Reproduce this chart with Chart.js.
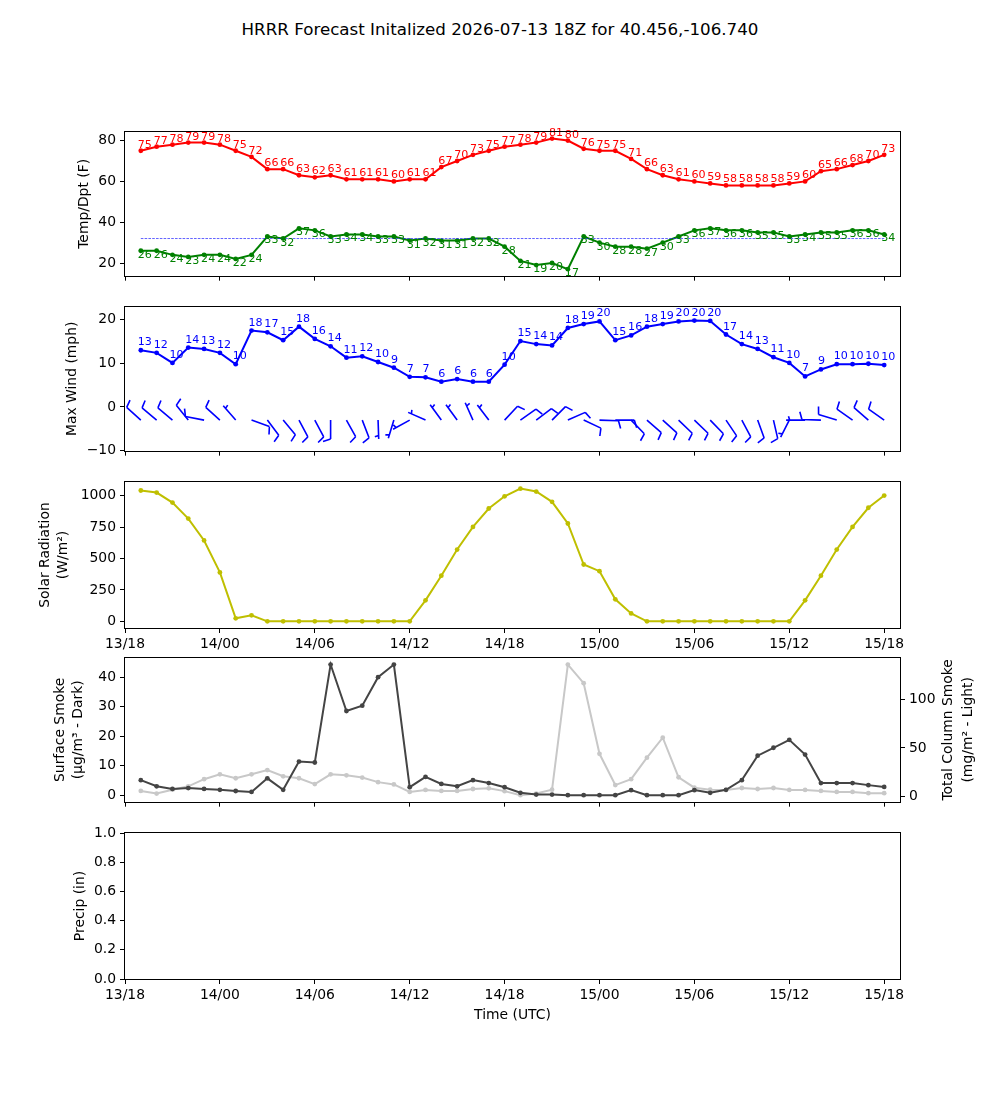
<!DOCTYPE html>
<html>
<head>
<meta charset="utf-8">
<title>HRRR Forecast</title>
<script src="https://cdn.jsdelivr.net/npm/chart.js@4.4.1/dist/chart.umd.min.js"></script>
<style>
    html, body { margin: 0; padding: 0; background: #ffffff; }
    #fig { position: relative; width: 1000px; height: 1100px; overflow: hidden; }
    #title { position: absolute; left: 0; top: 19px; width: 1000px; line-height: 20px;
             text-align: center; font-family: 'DejaVu Sans', sans-serif; font-size: 16.7px; color: #000; }
</style>
</head>
<body>
<div id="fig">
    <div id="title">HRRR Forecast Initalized 2026-07-13 18Z for 40.456,-106.740</div>
</div>
<script>
// --- Data ---
const fcstHour = [1, 2, 3, 4, 5, 6, 7, 8, 9, 10, 11, 12, 13, 14, 15, 16, 17, 18, 19, 20, 21, 22, 23, 24,
                  25, 26, 27, 28, 29, 30, 31, 32, 33, 34, 35, 36, 37, 38, 39, 40, 41, 42, 43, 44, 45, 46, 47, 48];
const tickHours = [0, 6, 12, 18, 24, 30, 36, 42, 48];
const tickLabels = ['13/18', '14/00', '14/06', '14/12', '14/18', '15/00', '15/06', '15/12', '15/18'];

const tempF = [75, 77, 78, 79, 79, 78, 75, 72, 66, 66, 63, 62, 63, 61, 61, 61, 60, 61, 61, 67, 70, 73, 75, 77,
               78, 79, 81, 80, 76, 75, 75, 71, 66, 63, 61, 60, 59, 58, 58, 58, 58, 59, 60, 65, 66, 68, 70, 73];
const dewF = [26, 26, 24, 23, 24, 24, 22, 24, 33, 32, 37, 36, 33, 34, 34, 33, 33, 31, 32, 31, 31, 32, 32, 28,
              21, 19, 20, 17, 33, 30, 28, 28, 27, 30, 33, 36, 37, 36, 36, 35, 35, 33, 34, 35, 35, 36, 36, 34];
const freezingF = 32;

const maxWindMph = [13.0, 12.4, 10.1, 13.6, 13.3, 12.4, 9.8, 17.5, 17.1, 15.3, 18.4, 15.6, 13.9, 11.3, 11.6, 10.3,
                    9.0, 6.9, 6.8, 5.8, 6.4, 5.8, 5.8, 9.7, 15.1, 14.4, 14.1, 18.1, 19.0, 19.6, 15.3, 16.4,
                    18.4, 19.0, 19.6, 19.8, 19.7, 16.6, 14.4, 13.3, 11.4, 10.1, 7.0, 8.6, 9.8, 9.8, 9.9, 9.6];
const windDir = [312, 310, 310, 321, 281, 312, 319, 110, 143, 140, 152, 152, 180, 151, 159, 178,
                 197, 241, 294, 324, 324, 336, 323, 43, 55, 53, 45, 66, 115, 92, 90, 136,
                 131, 132, 134, 134, 136, 146, 152, 160, 167, 207, 270, 272, 287, 305, 311, 305];
const barbKts = [10, 10, 10, 10, 10, 10, 5, 10, 10, 10, 10, 10, 10, 10, 10, 5,
                 5, 5, 5, 5, 5, 5, 5, 10, 10, 10, 10, 10, 10, 10, 10, 10,
                 10, 10, 10, 10, 10, 10, 10, 10, 10, 5, 5, 10, 10, 10, 10, 10];

const solarWm2 = [1040, 1024, 944, 817, 643, 389, 24, 48, 0, 0, 0, 0, 0, 0, 0, 0, 0, 0, 167, 363, 571, 751, 897, 994,
                  1055, 1032, 950, 778, 452, 399, 175, 63, 0, 0, 0, 0, 0, 0, 0, 0, 0, 0, 167, 363, 571, 751, 903, 1000];

const smokeSfc = [5.1, 3.0, 2.1, 2.4, 2.1, 1.8, 1.4, 1.1, 5.7, 1.8, 11.4, 11.1, 44.4, 28.6, 30.4, 40.1,
                  44.4, 2.7, 6.2, 3.8, 3.0, 5.1, 4.1, 2.7, 0.8, 0.2, 0.2, 0.0, 0.0, 0.0, 0.0, 1.7,
                  0.0, 0.0, 0.0, 1.7, 0.8, 1.8, 5.1, 13.4, 16.1, 18.8, 13.8, 4.1, 4.1, 4.1, 3.4, 2.8];
const smokeCol = [6.0, 3.3, 7.3, 10.7, 18, 23, 19, 23, 27.4, 21, 19, 13, 23, 22, 19.7, 15,
                  12.7, 5, 7, 6, 6, 8, 8.7, 5.8, 1.7, 3.3, 7.3, 135.4, 116.3, 44, 12, 18,
                  40, 60.5, 20, 9.3, 7.3, 7, 9, 8, 9, 7, 7, 6, 5, 5, 3.7, 3.7];

const tempTicks = [20, 40, 60, 80];
const windTicks = [-10, 0, 10, 20];
const solarTicks = [0, 250, 500, 750, 1000];
const smokeTicks = [0, 10, 20, 30, 40];
const colTicks = [0, 50, 100];
const precipTicks = [0, 0.2, 0.4, 0.6, 0.8, 1.0];

// --- Layout ---
const FONT = "'DejaVu Sans', sans-serif";
const TICK_FONT = { family: FONT, size: 13.9 };
const PAD_T = 14;
const PLOT_H = 146;

const series = (vals) => fcstHour.map((h, i) => ({ x: h, y: vals[i] }));

// --- Plugins ---
const frame = {
    id: 'frame',
    afterDraw(chart) {
        const { ctx, chartArea: a } = chart;
        ctx.save();
        ctx.strokeStyle = '#000';
        ctx.lineWidth = 1;
        ctx.strokeRect(Math.round(a.left) - 0.5, Math.round(a.top) - 0.5,
                       Math.round(a.right - a.left) + 1, Math.round(a.bottom - a.top) + 1);
        ctx.restore();
    }
};

const pointLabels = {
    id: 'pointLabels',
    afterDatasetsDraw(chart) {
        const ctx = chart.ctx;
        chart.data.datasets.forEach((ds, di) => {
            if (ds.labelOffset === undefined) return;
            const meta = chart.getDatasetMeta(di);
            ctx.save();
            ctx.font = `11.1px ${FONT}`;
            ctx.fillStyle = ds.borderColor;
            ctx.textAlign = 'left';
            ctx.textBaseline = 'alphabetic';
            meta.data.forEach((pt, i) => {
                ctx.fillText(String(Math.round(ds.data[i].y)), pt.x - 3, pt.y + ds.labelOffset);
            });
            ctx.restore();
        });
    }
};

function axisLabels(items) {
    return {
        id: 'axisLabels',
        afterDraw(chart) {
            const { ctx, chartArea } = chart;
            const cy = (chartArea.top + chartArea.bottom) / 2;
            ctx.save();
            ctx.font = `13.9px ${FONT}`;
            ctx.fillStyle = '#000';
            ctx.textAlign = 'center';
            ctx.textBaseline = 'middle';
            items.forEach(it => {
                ctx.save();
                ctx.translate(it.x, cy);
                ctx.rotate(-Math.PI / 2);
                ctx.fillText(it.text, 0, 0);
                ctx.restore();
            });
            ctx.restore();
        }
    };
}

function windBarbs(dirs, kts, level) {
    return {
        id: 'windBarbs',
        afterDatasetsDraw(chart) {
            const { ctx, scales } = chart;
            const L = 19, H = 0.4 * L, W = 0.25 * L, S = 0.125 * L;
            ctx.save();
            ctx.strokeStyle = '#0000ff';
            ctx.lineWidth = 1.6;
            fcstHour.forEach((h, i) => {
                const bx = scales.x.getPixelForValue(h);
                const by = scales.y.getPixelForValue(level);
                const a = dirs[i] * Math.PI / 180;
                const ux = Math.sin(a), uy = -Math.cos(a);   // shaft points into the wind
                const px = -uy, py = ux;                     // barbs on the clockwise side
                const at = d => [bx + ux * d, by + uy * d];
                ctx.beginPath();
                ctx.moveTo(bx, by);
                const tip = at(L);
                ctx.lineTo(tip[0], tip[1]);
                let off = L;
                const full = Math.floor(kts[i] / 10);
                const half = kts[i] % 10 >= 5;
                for (let k = 0; k < full; k++) {
                    const p = at(off);
                    ctx.moveTo(p[0], p[1]);
                    ctx.lineTo(p[0] + px * H + ux * W / 2, p[1] + py * H + uy * W / 2);
                    off -= S;
                }
                if (half) {
                    if (off === L) off -= 1.5 * S;
                    const p = at(off);
                    ctx.moveTo(p[0], p[1]);
                    ctx.lineTo(p[0] + px * H / 2 + ux * W / 4, p[1] + py * H / 2 + uy * W / 4);
                }
                ctx.stroke();
            });
            ctx.restore();
        }
    };
}

// --- Scales ---
function xAxis(mode, height) {
    return {
        type: 'linear', min: 0, max: 49,
        afterBuildTicks: s => { s.ticks = tickHours.map(v => ({ value: v })); },
        afterFit: s => { s.height = height; },
        grid: { drawOnChartArea: false, drawTicks: true, tickLength: 5, color: '#000', lineWidth: 1 },
        border: { display: false },
        ticks: {
            display: mode !== 'none', color: '#000', font: TICK_FONT, padding: 3,
            maxRotation: 0, autoSkip: false,
            callback: (v, i) => tickLabels[i]
        },
        title: {
            display: mode === 'title', text: 'Time (UTC)', color: '#000', font: TICK_FONT,
            padding: { top: 0, bottom: 15.7 }
        }
    };
}

function yAxis(pos, min, max, ticksArr, fmt) {
    return {
        type: 'linear', position: pos, min: min, max: max,
        afterBuildTicks: s => { s.ticks = ticksArr.map(v => ({ value: v })); },
        afterFit: s => { s.width = pos === 'left' ? 125 : 100; },
        grid: { drawOnChartArea: false, tickLength: 5, color: '#000', lineWidth: 1 },
        border: { display: false },
        ticks: {
            color: '#000', font: TICK_FONT, padding: 4,
            callback: fmt || (v => String(v).replace('-', '\u2212'))
        }
    };
}

function lineSet(vals, color, extra) {
    return Object.assign({
        data: series(vals),
        borderColor: color,
        backgroundColor: color,
        borderWidth: 2,
        pointRadius: 2.4,
        pointBorderWidth: 0,
        pointBackgroundColor: color,
        tension: 0
    }, extra || {});
}

// --- Panels ---
function addCanvas(top, height) {
    const c = document.createElement('canvas');
    c.width = 1000;
    c.height = height;
    c.style.cssText = `position:absolute;left:0;top:${top}px;width:1000px;height:${height}px`;
    document.getElementById('fig').appendChild(c);
    return c;
}

function panelChart(cfg) {
    const xH = cfg.xMode === 'title' ? 60 : (cfg.xMode === 'labels' ? 30 : 10);
    const canvas = addCanvas(cfg.top - PAD_T, PAD_T + PLOT_H + xH);
    const scales = Object.assign({ x: xAxis(cfg.xMode, xH) }, cfg.scales);
    const plugins = [frame, pointLabels, axisLabels(cfg.labels)];
    if (cfg.extraPlugin) plugins.push(cfg.extraPlugin);
    return new Chart(canvas, {
        type: 'line',
        data: { datasets: cfg.datasets },
        options: {
            responsive: false,
            animation: false,
            devicePixelRatio: 1,
            layout: { padding: { top: PAD_T, left: 0, right: cfg.scales.y2 ? 0 : 100, bottom: 0 } },
            scales: scales,
            plugins: { legend: { display: false }, tooltip: { enabled: false } }
        },
        plugins: plugins
    });
}

// Temperature / dewpoint
panelChart({
    top: 132, xMode: 'none',
    labels: [{ text: 'Temp/Dpt (F)', x: 84 }],
    scales: { y: yAxis('left', 13.8, 84.2, tempTicks) },
    datasets: [
        {
            data: [{ x: fcstHour[0], y: freezingF }, { x: fcstHour[fcstHour.length - 1], y: freezingF }],
            borderColor: '#2020ff', borderWidth: 0.7, borderDash: [2.6, 1.2], pointRadius: 0
        },
        lineSet(tempF, '#ff0000', { labelOffset: -3 }),
        lineSet(dewF, '#008000', { labelOffset: 7 })
    ]
});

// Max wind + barbs
panelChart({
    top: 307, xMode: 'none',
    labels: [{ text: 'Max Wind (mph)', x: 72 }],
    scales: { y: yAxis('left', -10, 22.9, windTicks) },
    datasets: [lineSet(maxWindMph, '#0000ff', { labelOffset: -5 })],
    extraPlugin: windBarbs(windDir, barbKts, -3)
});

// Solar radiation
panelChart({
    top: 482, xMode: 'labels',
    labels: [{ text: 'Solar Radiation', x: 45 }, { text: '(W/m\u00b2)', x: 63 }],
    scales: { y: yAxis('left', -52.75, 1107.75, solarTicks) },
    datasets: [lineSet(solarWm2, '#bfbf00')]
});

// Smoke
panelChart({
    top: 658, xMode: 'none',
    labels: [
        { text: 'Surface Smoke', x: 60 }, { text: '(\u03bcg/m\u00b3 - Dark)', x: 78 },
        { text: 'Total Column Smoke', x: 948 }, { text: '(mg/m\u00b2 - Light)', x: 968 }
    ],
    scales: {
        y: yAxis('left', -2.22, 46.62, smokeTicks),
        y2: yAxis('right', -4.985, 142.085, colTicks)
    },
    datasets: [
        lineSet(smokeSfc, '#444444', { yAxisID: 'y' }),
        lineSet(smokeCol, '#c8c8c8', { yAxisID: 'y2' })
    ]
});

// Precip (empty)
panelChart({
    top: 833, xMode: 'title',
    labels: [{ text: 'Precip (in)', x: 80 }],
    scales: { y: yAxis('left', 0, 1, precipTicks, v => v.toFixed(1)) },
    datasets: []
});
</script>
</body>
</html>
